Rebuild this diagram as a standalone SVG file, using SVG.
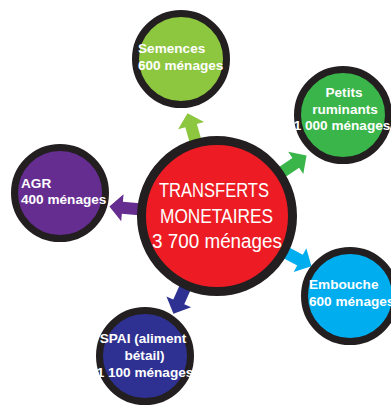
<svg xmlns="http://www.w3.org/2000/svg" width="391" height="405" viewBox="0 0 391 405">
<defs>
<style>
.ring{stroke:#231F20;stroke-width:7}
.main{stroke:#231F20;stroke-width:9}
.lbl{font-family:"Liberation Sans",Arial,sans-serif;font-weight:bold;font-size:13.6px;fill:#FFFFFF}
.big{font-family:"Liberation Sans",Arial,sans-serif;font-size:20px;fill:#FFFFFF;text-anchor:middle}
.mid{text-anchor:middle}
</style>
<path id="arr" d="M0,0 L-13,-13.5 L-13,-6 L-30,-6 L-30,6 L-13,6 L-13,13.5 Z"/>
</defs>
<rect width="391" height="405" fill="#FFFFFF"/>
<g id="connectors">
<use href="#arr" fill="#8DC63F" transform="translate(217,216) rotate(-106) translate(107,0)"/>
<use href="#arr" fill="#39B54A" transform="translate(217,216) rotate(-34) translate(108,0)"/>
<use href="#arr" fill="#662D91" transform="translate(217,216) rotate(185) translate(108,0)"/>
<use href="#arr" fill="#00AEEF" transform="translate(217,216) rotate(28) translate(107,0)"/>
<use href="#arr" fill="#2E3192" transform="translate(217,216) rotate(114) translate(107,0)"/>
</g>
<g id="central">
<circle class="main" cx="217" cy="216" r="75.5" fill="#ED1C24"/>
<text class="big" x="214" y="197" textLength="110" lengthAdjust="spacingAndGlyphs">TRANSFERTS</text>
<text class="big" x="216.5" y="223" textLength="113" lengthAdjust="spacingAndGlyphs">MONETAIRES</text>
<text class="big" x="217" y="248" textLength="130" lengthAdjust="spacingAndGlyphs">3 700 ménages</text>
</g>
<g id="semences">
<circle class="ring" cx="181" cy="59" r="45.5" fill="#8DC63F"/>
<text class="lbl" x="138" y="53">Semences</text>
<text class="lbl" x="138" y="70">600 ménages</text>
</g>
<g id="petits-ruminants">
<circle class="ring" cx="343" cy="115" r="45.5" fill="#39B54A"/>
<text class="lbl mid" x="344" y="97">Petits</text>
<text class="lbl mid" x="345" y="113.5">ruminants</text>
<text class="lbl mid" x="342" y="130">1 000 ménages</text>
</g>
<g id="agr">
<circle class="ring" cx="60" cy="193" r="45.5" fill="#662D91"/>
<text class="lbl" x="21" y="188">AGR</text>
<text class="lbl" x="21" y="204">400 ménages</text>
</g>
<g id="embouche">
<circle class="ring" cx="350" cy="296" r="45.5" fill="#00AEEF"/>
<text class="lbl" x="309" y="289">Embouche</text>
<text class="lbl" x="309" y="306">600 ménages</text>
</g>
<g id="spai">
<circle class="ring" cx="145" cy="356" r="45.5" fill="#2E3192"/>
<text class="lbl mid" x="143" y="343">SPAI (aliment</text>
<text class="lbl mid" x="144.5" y="360">bétail)</text>
<text class="lbl mid" x="145" y="377">1 100 ménages</text>
</g>
</svg>
